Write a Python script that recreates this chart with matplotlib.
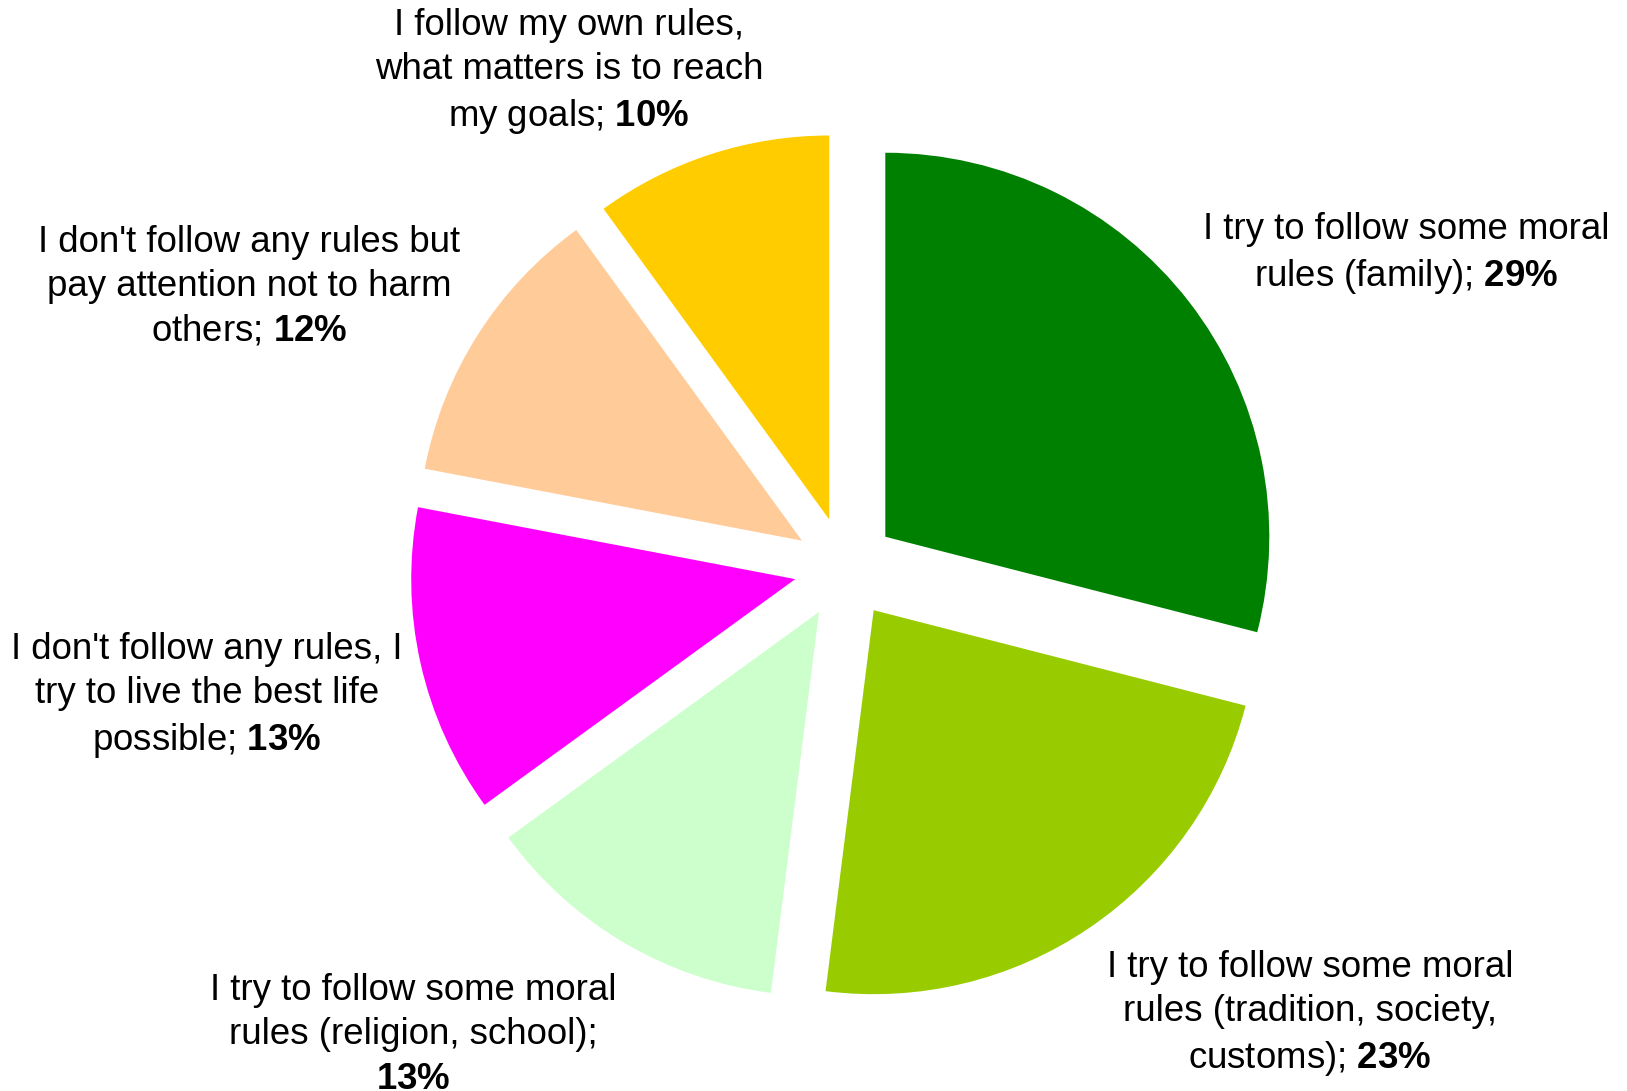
import matplotlib.pyplot as plt

plt.rcParams['font.family'] = ['Liberation Sans', 'DejaVu Sans']
plt.rcParams['mathtext.fontset'] = 'custom'
plt.rcParams['mathtext.rm'] = 'Liberation Sans'
plt.rcParams['mathtext.bf'] = 'Liberation Sans:bold'

# slices, clockwise from 12 o'clock
labels = [
    "I try to follow some moral\nrules (family);",
    "I try to follow some moral\nrules (tradition, society,\ncustoms);",
    "I try to follow some moral\nrules (religion, school);\n",
    "I don't follow any rules, I\ntry to live the best life\npossible;",
    "I don't follow any rules but\npay attention not to harm\nothers;",
    "I follow my own rules,\nwhat matters is to reach\nmy goals;",
]
shares = [29, 23, 13, 13, 12, 10]
colors = ["#008000", "#99CC00", "#CCFFCC", "#FF00FF", "#FFCC99", "#FFCC00"]

# label anchors in pixel coords (x, y from top)
label_xy = [(1406, 254), (1310, 1014), (413, 1035), (207, 696), (249, 287), (569, 72)]

W, H = 1627, 1091
fig = plt.figure(figsize=(W / 100, H / 100), dpi=100)
ax = fig.add_axes([0, 0, 1, 1])
ax.set_xlim(0, W)
ax.set_ylim(0, H)
ax.set_aspect('equal')
ax.axis('off')

# explode is in data units here (pixels), not a fraction of the radius
ax.pie(shares, colors=colors, startangle=90, counterclock=False,
       explode=[51] * len(shares), center=(845, H - 568), radius=384,
       wedgeprops=dict(linewidth=0))
ax.set_xlim(0, W)
ax.set_ylim(0, H)

for lab, v, (x, y) in zip(labels, shares, label_xy):
    if lab.endswith("\n"):
        txt = lab + r"$\mathbf{%d\%%}$" % v
    else:
        txt = lab + r" $\mathbf{%d\%%}$" % v
    ax.text(x, H - y, txt, ha='center', va='center', multialignment='center',
            fontsize=26.4, linespacing=1.35)

fig.savefig("out.png", dpi=100)
